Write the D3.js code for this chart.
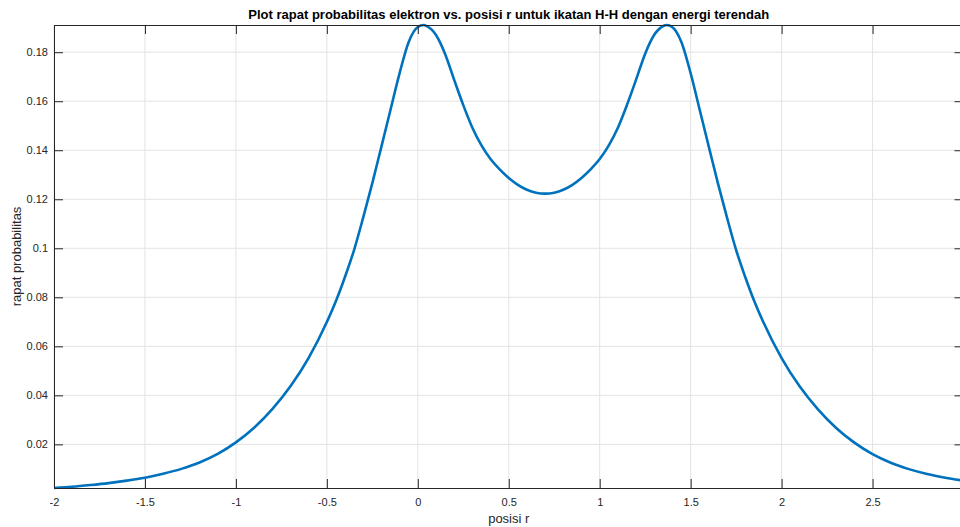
<!DOCTYPE html>
<html lang="id">
<head>
    <meta charset="UTF-8">
    <title>Rapat probabilitas elektron H-H</title>
    <script src="https://d3js.org/d3.v7.min.js"></script>
    <style>
        body {
            margin: 0;
            background: #fff;
            font-family: "Liberation Sans", Arial, sans-serif;
        }
        .axis-label {
            font-size: 13px;
            fill: #262626;
        }
    </style>
</head>
<body>
    <div class="chart"></div>

    <script>
        // posisi r (sumbu x) dan rapat probabilitas
        const posisiR = [
            -2.0, -1.9, -1.8, -1.7, -1.6, -1.5, -1.4, -1.3, -1.2, -1.1,
            -1.0, -0.9, -0.8, -0.7, -0.6, -0.5, -0.45, -0.4, -0.35, -0.3,
            -0.25, -0.2, -0.15, -0.1, -0.05, 0.0, 0.032, 0.05, 0.1, 0.15,
            0.2, 0.25, 0.3, 0.35, 0.4, 0.45, 0.5, 0.55, 0.6, 0.65, 0.7,
            0.75, 0.8, 0.85, 0.9, 0.95, 1.0, 1.05, 1.1, 1.15, 1.2,
            1.25, 1.3, 1.35, 1.368, 1.4, 1.45, 1.5, 1.55, 1.6, 1.65,
            1.7, 1.75, 1.8, 1.85, 1.9, 2.0, 2.1, 2.2, 2.3, 2.4,
            2.5, 2.6, 2.7, 2.8, 2.9, 3.0
        ];
        const rapat = [
            0.0022, 0.0027, 0.0034, 0.0042, 0.0052, 0.0064, 0.0080, 0.0100, 0.0126, 0.0161,
            0.0208, 0.0268, 0.0344, 0.0437, 0.0553, 0.0699, 0.0785, 0.0884, 0.0994, 0.1126,
            0.1266, 0.1415, 0.1565, 0.1715, 0.1842, 0.1903, 0.1911, 0.1906, 0.1870, 0.1793,
            0.1687, 0.1584, 0.1492, 0.1420, 0.1364, 0.1322, 0.1287, 0.1259, 0.1239, 0.1227, 0.1223,
            0.1227, 0.1239, 0.1259, 0.1287, 0.1322, 0.1364, 0.1420, 0.1492, 0.1585, 0.1688,
            0.1794, 0.1871, 0.1907, 0.1911, 0.1902, 0.1840, 0.1714, 0.1564, 0.1414, 0.1265,
            0.1125, 0.0993, 0.0883, 0.0784, 0.0698, 0.0552, 0.0436, 0.0343, 0.0267, 0.0207,
            0.0160, 0.0125, 0.0099, 0.0079, 0.0064, 0.0052
        ];
        const xTicks = [-2, -1.5, -1, -0.5, 0, 0.5, 1, 1.5, 2, 2.5];
        const yTicks = [0.02, 0.04, 0.06, 0.08, 0.1, 0.12, 0.14, 0.16, 0.18];

        const data = posisiR.map((r, i) => ({ r, p: rapat[i] }));

        const W = 960, H = 527;
        const margin = { top: 25, right: -3.5, bottom: 39, left: 54 };
        const width = W - margin.left - margin.right;
        const height = H - margin.top - margin.bottom;
        const axisColor = "#262626";
        const gridColor = "#e3e3e3";
        const tickLen = 9;

        const svg = d3.select(".chart")
            .append("svg")
            .attr("width", W)
            .attr("height", H)
            .style("display", "block")
            .style("overflow", "hidden");

        const g = svg.append("g")
            .attr("transform", `translate(${margin.left},${margin.top})`);

        const x = d3.scaleLinear().domain([-2, 3]).range([0, width]);
        const y = d3.scaleLinear().domain(d3.extent(rapat)).range([height, 0]);

        // grid
        g.append("g")
            .selectAll("line")
            .data(xTicks)
            .join("line")
            .attr("x1", d => x(d)).attr("x2", d => x(d))
            .attr("y1", 0).attr("y2", height)
            .attr("stroke", gridColor);
        g.append("g")
            .selectAll("line")
            .data(yTicks)
            .join("line")
            .attr("x1", 0).attr("x2", width)
            .attr("y1", d => y(d)).attr("y2", d => y(d))
            .attr("stroke", gridColor);

        // the curve
        const line = d3.line()
            .x(d => x(d.r))
            .y(d => y(d.p))
            .curve(d3.curveMonotoneX);

        g.append("path")
            .datum(data)
            .attr("fill", "none")
            .attr("stroke", "#0072BD")
            .attr("stroke-width", 2.6)
            .attr("stroke-linejoin", "round")
            .attr("d", line);

        // axes (MATLAB style: ticks point inward, box on)
        const fmt = d => String(d);
        const xAxis = g.append("g")
            .attr("transform", `translate(0,${height})`)
            .call(d3.axisBottom(x).tickValues(xTicks).tickFormat(fmt)
                .tickSizeInner(-tickLen).tickSizeOuter(0).tickPadding(10));
        const xTop = g.append("g")
            .call(d3.axisTop(x).tickValues(xTicks).tickFormat("")
                .tickSizeInner(-tickLen).tickSizeOuter(0));
        const yAxis = g.append("g")
            .call(d3.axisLeft(y).tickValues(yTicks).tickFormat(fmt)
                .tickSizeInner(-tickLen).tickSizeOuter(0).tickPadding(6));
        const yRight = g.append("g")
            .attr("transform", `translate(${width},0)`)
            .call(d3.axisRight(y).tickValues(yTicks).tickFormat("")
                .tickSizeInner(-tickLen).tickSizeOuter(0));

        [xAxis, xTop, yAxis, yRight].forEach(a => {
            a.select(".domain").attr("stroke", axisColor);
            a.selectAll(".tick line").attr("stroke", axisColor);
            a.selectAll(".tick text")
                .attr("font-family", "Liberation Sans, Arial, sans-serif")
                .attr("font-size", 11)
                .attr("fill", axisColor);
        });

        // title
        svg.append("text")
            .attr("x", margin.left + width / 2)
            .attr("y", 19)
            .attr("text-anchor", "middle")
            .attr("font-size", "13px")
            .attr("font-weight", "bold")
            .attr("fill", "#000")
            .text("Plot rapat probabilitas elektron vs. posisi r untuk ikatan H-H dengan energi terendah");

        // axis labels
        svg.append("text")
            .attr("class", "axis-label")
            .attr("x", margin.left + width / 2)
            .attr("y", 523)
            .attr("text-anchor", "middle")
            .text("posisi r");

        svg.append("text")
            .attr("class", "axis-label")
            .attr("transform", `translate(21,${margin.top + height / 2}) rotate(-90)`)
            .attr("text-anchor", "middle")
            .text("rapat probabilitas");
    </script>
</body>
</html>
